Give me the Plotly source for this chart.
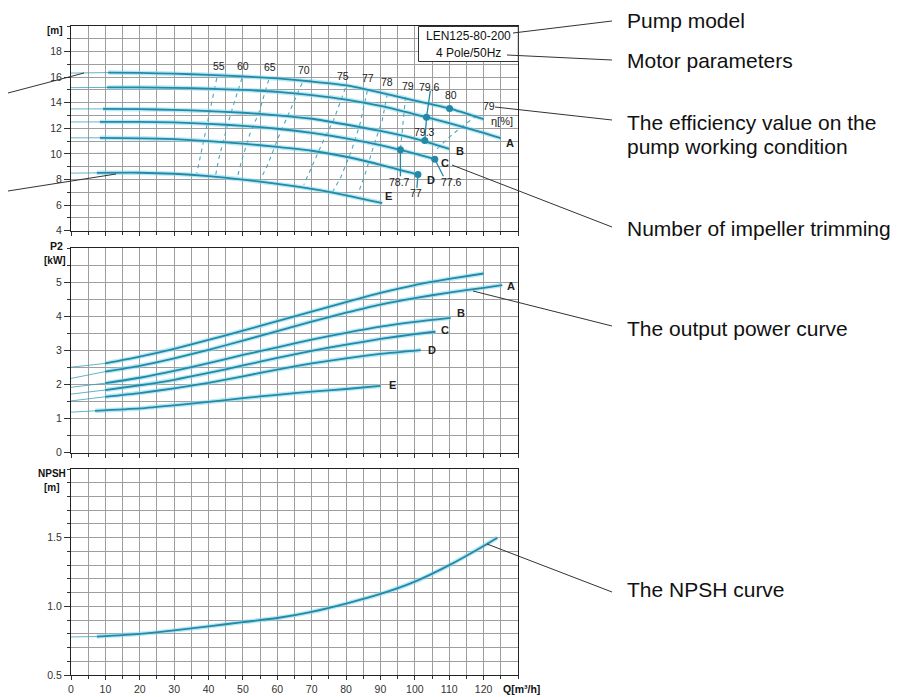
import plotly.graph_objects as go

# ---------------- DATA ----------------
# Head curves (top chart): flow Q [m3/h] and head H [m]
H_names = ["", "A", "B", "C", "D", "E"]
H_thin_q = [[0, 10.8], [0, 10.5], [0, 9.3], [0, 8.4], [0, 8.4], [0, 7.5]]
H_thin_v = [[16.32, 16.36], [15.18, 15.2], [13.52, 13.52], [12.5, 12.5], [11.26, 11.26], [8.5, 8.52]]
H_q = [
    [10.8, 20, 30, 40, 50, 60, 70, 80, 90, 100, 110, 120],
    [10.5, 20, 30, 40, 50, 60, 70, 80, 90, 100, 110, 120, 125],
    [9.3, 20, 30, 40, 50, 60, 70, 80, 90, 100, 110],
    [8.4, 20, 30, 40, 50, 60, 70, 80, 90, 100, 105.8],
    [8.4, 20, 30, 40, 50, 60, 70, 80, 90, 100.9],
    [7.5, 20, 30, 40, 50, 60, 70, 80, 90.5],
]
H_v = [
    [16.36, 16.33, 16.27, 16.18, 16.06, 15.9, 15.66, 15.36, 14.8, 14.17, 13.56, 12.72],
    [15.2, 15.2, 15.17, 15.1, 15.0, 14.85, 14.6, 14.25, 13.75, 13.1, 12.4, 11.65, 11.23],
    [13.52, 13.5, 13.44, 13.35, 13.22, 13.02, 12.75, 12.3, 11.8, 11.2, 10.4],
    [12.5, 12.5, 12.46, 12.35, 12.2, 11.97, 11.65, 11.22, 10.68, 10.02, 9.59],
    [11.26, 11.22, 11.15, 11.0, 10.8, 10.55, 10.25, 9.78, 9.15, 8.39],
    [8.52, 8.53, 8.45, 8.27, 8.0, 7.66, 7.27, 6.77, 6.16],
]

# Efficiency iso-lines (dashed) in the head chart
eta_values = ["55", "60", "65", "70", "75", "77", "78", "79", "80"]
eta_q = [
    [42.4, 40.5, 39.0, 36.6],
    [49.7, 46.8, 44.9, 42.9, 41.9],
    [57.5, 54.6, 52.1, 49.7, 48.3],
    [67.2, 62.8, 60.4, 57.0, 55.0],
    [79.8, 76.4, 73.5, 70.6, 67.7],
    [86.2, 84.0, 81.5, 78.5, 75.5],
    [92.0, 90.5, 88.0, 85.5, 83.5],
    [97.3, 96.8, 96.2, 95.8],
    [118.0, 114.0, 109.5, 106.5],
]
eta_h = [
    [15.92, 13.45, 11.63, 8.5],
    [15.92, 13.45, 11.63, 9.54, 8.1],
    [15.79, 13.19, 11.63, 9.54, 8.11],
    [15.53, 12.92, 11.36, 9.02, 7.98],
    [15.14, 12.67, 11.1, 9.28, 7.59],
    [14.95, 12.3, 10.2, 8.2, 6.75],
    [14.7, 12.6, 10.6, 8.4, 6.9],
    [14.45, 13.0, 11.6, 10.32],
    [13.0, 12.2, 11.2, 10.4],
]
# Efficiency label positions (Q, H)
eta_lab_text = ["55", "60", "65", "70", "75", "77", "78", "79", "79.6", "80", "79", "79.3", "78.7", "77", "77.6"]
eta_lab_q = [43.1, 50.1, 58.0, 67.9, 79.2, 86.5, 92.0, 97.9, 104.3, 110.4, 121.5, 102.8, 95.6, 100.2, 110.6]
eta_lab_h = [16.88, 16.88, 16.8, 16.57, 16.1, 15.96, 15.65, 15.33, 15.26, 14.64, 13.72, 11.7, 7.83, 6.96, 7.83]

# Working points (dots)
dot_q = [110.1, 103.4, 102.9, 95.8, 105.8, 100.9]
dot_h = [13.56, 12.87, 11.05, 10.32, 9.59, 8.39]

# Curve labels in head chart
H_lab_text = ["η[%]", "A", "B", "C", "D", "E"]
H_lab_q = [125.3, 127.6, 113.2, 108.8, 104.6, 92.4]
H_lab_h = [12.55, 10.88, 10.26, 9.32, 7.99, 6.73]

# Power curves P2 [kW]
P_thin_q = [[0, 9.9], [0, 9.9], [0, 9.9], [0, 9.9], [0, 9.9], [0, 7.0]]
P_thin_v = [[2.51, 2.62], [2.18, 2.38], [1.92, 2.04], [1.72, 1.84], [1.52, 1.64], [1.19, 1.23]]
P_q = [
    [9.9, 20, 30, 40, 50, 60, 70, 80, 90, 100, 110, 120],
    [9.9, 20, 30, 40, 50, 60, 70, 80, 90, 100, 110, 120, 125.4],
    [9.9, 20, 30, 40, 50, 60, 70, 80, 90, 100, 110.4],
    [9.9, 20, 30, 40, 50, 60, 70, 80, 90, 100, 106],
    [9.9, 20, 30, 40, 50, 60, 70, 80, 90, 101.7],
    [7.0, 20, 30, 40, 50, 60, 70, 80, 90],
]
P_v = [
    [2.62, 2.82, 3.05, 3.31, 3.58, 3.86, 4.14, 4.42, 4.69, 4.92, 5.1, 5.26],
    [2.38, 2.55, 2.77, 3.02, 3.29, 3.57, 3.85, 4.11, 4.35, 4.54, 4.7, 4.84, 4.92],
    [2.04, 2.2, 2.4, 2.63, 2.87, 3.09, 3.32, 3.52, 3.7, 3.84, 3.96],
    [1.84, 1.98, 2.14, 2.34, 2.56, 2.78, 2.99, 3.17, 3.34, 3.48, 3.55],
    [1.64, 1.75, 1.89, 2.05, 2.24, 2.44, 2.62, 2.77, 2.9, 3.01],
    [1.23, 1.3, 1.39, 1.49, 1.6, 1.7, 1.79, 1.87, 1.96],
]
P_lab_text = ["A", "B", "C", "D", "E"]
P_lab_q = [127.9, 113.3, 108.9, 105.1, 93.4]
P_lab_v = [4.89, 4.09, 3.6, 3.01, 1.99]

# NPSH curve [m]
N_thin_q = [0, 7.5]
N_thin_v = [0.777, 0.78]
N_q = [7.5, 20, 30, 40, 50, 60, 70, 80, 90, 100, 110, 120, 124]
N_v = [0.78, 0.80, 0.825, 0.854, 0.885, 0.915, 0.96, 1.02, 1.09, 1.18, 1.3, 1.44, 1.5]

x_ticks = [0, 10, 20, 30, 40, 50, 60, 70, 80, 90, 100, 110, 120]
H_ticks = [4, 6, 8, 10, 12, 14, 16, 18]
P_ticks = [0, 1, 2, 3, 4, 5]
N_ticks = [0.5, 1.0, 1.5]
N_ticktext = ["0.5", "1.0", "1.5"]

# ---------------- STYLE ----------------
OFF = 8  # default page body margin
W, H = 922 - OFF, 697 - OFF
ML, MR, MT, MB = 71 - OFF, 404, 26 - OFF, 22
PW, PH = W - ML - MR, H - MT - MB
X0, YB = 71, 675  # page pixel of plot left edge / plot bottom
CORE = "#2489a6"
GLOW = "rgba(125,215,235,0.55)"
THIN = "rgba(60,160,185,0.8)"
GRID = "#9e9e9e"
FONT = "Liberation Sans, Arial, sans-serif"


def px(x):
    return (x - X0) / PW


def py(y):
    return (YB - y) / PH


fig = go.Figure()


def add_curve(tq, tv, q, v, xa, ya):
    fig.add_trace(go.Scatter(x=tq, y=tv, mode="lines", xaxis=xa, yaxis=ya,
                             line=dict(color=THIN, width=1), hoverinfo="skip", showlegend=False))
    fig.add_trace(go.Scatter(x=q, y=v, mode="lines", xaxis=xa, yaxis=ya,
                             line=dict(color=GLOW, width=4.5, shape="spline", smoothing=0.6),
                             hoverinfo="skip", showlegend=False))
    fig.add_trace(go.Scatter(x=q, y=v, mode="lines", xaxis=xa, yaxis=ya,
                             line=dict(color=CORE, width=1.8, shape="spline", smoothing=0.6),
                             showlegend=False))


# efficiency dashed lines
for q, h in zip(eta_q, eta_h):
    fig.add_trace(go.Scatter(x=q, y=h, mode="lines", xaxis="x", yaxis="y",
                             line=dict(color="#46a9c0", width=1.1, dash="4px,4px"),
                             hoverinfo="skip", showlegend=False))

for i in range(len(H_q)):
    add_curve(H_thin_q[i], H_thin_v[i], H_q[i], H_v[i], "x", "y")
for i in range(len(P_q)):
    add_curve(P_thin_q[i], P_thin_v[i], P_q[i], P_v[i], "x2", "y2")
add_curve(N_thin_q, N_thin_v, N_q, N_v, "x3", "y3")

fig.add_trace(go.Scatter(x=dot_q, y=dot_h, mode="markers", xaxis="x", yaxis="y",
                         marker=dict(color=CORE, size=7), showlegend=False))

# ---------------- AXES ----------------
common_x = dict(range=[0, 130], dtick=10, tick0=0, showgrid=True, gridcolor=GRID, gridwidth=1,
                zeroline=False, showline=True, linecolor="#222", linewidth=1, mirror=True,
                ticks="outside", ticklen=4, tickcolor="#333",
                minor=dict(dtick=5, showgrid=True, gridcolor=GRID, ticks="outside", ticklen=3, tickcolor="#333"),
                tickfont=dict(family=FONT, size=10.5, color="#333"), fixedrange=True)
common_y = dict(showgrid=True, gridcolor=GRID, gridwidth=1, zeroline=False, showline=True,
                linecolor="#222", linewidth=1, mirror=True, ticks="outside", ticklen=6, tickcolor="#333",
                tickfont=dict(family=FONT, size=10.5, color="#333"), fixedrange=True)

fig.update_layout(
    width=W, height=H,
    margin=dict(l=ML, r=MR, t=MT, b=MB, autoexpand=False),
    paper_bgcolor="white", plot_bgcolor="white",
    showlegend=False,
    xaxis=dict(common_x, anchor="y", domain=[0, 1], showticklabels=False),
    xaxis2=dict(common_x, anchor="y2", domain=[0, 1], showticklabels=False, matches="x"),
    xaxis3=dict(common_x, anchor="y3", domain=[0, 1], tickmode="array", tickvals=x_ticks, matches="x"),
    yaxis=dict(common_y, anchor="x", domain=[py(230.7), 1], range=[4, 20], tickmode="array",
               tickvals=H_ticks,
               minor=dict(dtick=1, tick0=0, showgrid=True, gridcolor=GRID, ticks="outside", ticklen=3, tickcolor="#333")),
    yaxis2=dict(common_y, anchor="x2", domain=[py(452.7), py(248.3)], range=[0, 6], tickmode="array",
                tickvals=P_ticks,
                minor=dict(dtick=0.5, tick0=0, showgrid=True, gridcolor=GRID, ticks="outside", ticklen=3, tickcolor="#333")),
    yaxis3=dict(common_y, anchor="x3", domain=[0, py(469)], range=[0.5, 2.0], tickmode="array",
                tickvals=N_ticks, ticktext=N_ticktext,
                minor=dict(dtick=0.1, tick0=0.5, showgrid=True, gridcolor=GRID, ticks="outside", ticklen=3, tickcolor="#333")),
)

ann = []


def data_text(t, x, y, xa, ya, size=10.5, bold=False, anchor="center"):
    ann.append(dict(text=("<b>%s</b>" % t) if bold else t, x=x, y=y, xref=xa, yref=ya, showarrow=False,
                    font=dict(family=FONT, size=size, color="#222"), xanchor=anchor, yanchor="middle"))


for t, q, h in zip(eta_lab_text, eta_lab_q, eta_lab_h):
    data_text(t, q, h, "x", "y", size=10.5)
for t, q, h in zip(H_lab_text, H_lab_q, H_lab_h):
    data_text(t, q, h, "x", "y", size=11, bold=(t != "η[%]"))
for t, q, v in zip(P_lab_text, P_lab_q, P_lab_v):
    data_text(t, q, v, "x2", "y2", size=11, bold=True)


def paper_text(t, x, y, size, anchor="left", bold=False):
    ann.append(dict(text=("<b>%s</b>" % t) if bold else t, x=px(x), y=py(y), xref="paper", yref="paper",
                    showarrow=False, font=dict(family=FONT, size=size, color="#111"),
                    xanchor=anchor, yanchor="middle"))


# axis unit labels
paper_text("[m]", 55, 31, 10, "center", True)
paper_text("P2", 56, 246, 10.5, "center", True)
paper_text("[kW]", 55, 261, 10, "center", True)
paper_text("NPSH", 52, 473, 10, "center", True)
paper_text("[m]", 52, 487, 10, "center", True)
paper_text("Q[m³/h]", 521, 689, 10.5, "center", True)

# model box text
paper_text("LEN125-80-200", 468, 35.5, 12, "center")
paper_text("4 Pole/50Hz", 468, 53, 12, "center")

# explanation texts on the right
paper_text("Pump model", 625, 20, 21)
paper_text("Motor parameters", 625, 60, 21)
paper_text("The efficiency value on the", 625, 123, 21)
paper_text("pump working condition", 625, 147, 21)
paper_text("Number of impeller trimming", 625, 228, 21)
paper_text("The output power curve", 625, 328, 21)
paper_text("The NPSH curve", 625, 589, 21)

fig.update_layout(annotations=ann)

shapes = []


def pline(x0, y0, x1, y1, color="#333", width=1):
    shapes.append(dict(type="line", xref="paper", yref="paper", x0=px(x0), y0=py(y0), x1=px(x1), y1=py(y1),
                       line=dict(color=color, width=width)))


# model box
shapes.append(dict(type="rect", xref="paper", yref="paper", x0=px(418.5), y0=py(61.5), x1=px(518.3), y1=py(26.5),
                   line=dict(color="#333", width=1), fillcolor="white", layer="above"))
# leader lines
pline(513, 33, 612, 21)
pline(507, 55, 612, 60)
pline(495, 107, 612, 120)
pline(452, 165, 612, 227)
pline(473, 291, 612, 326)
pline(487, 544, 612, 592)
pline(OFF, 93, 84, 73)
pline(OFF, 191, 116, 174)


def dline(x0, y0, x1, y1):
    shapes.append(dict(type="line", xref="x", yref="y", x0=x0, y0=y0, x1=x1, y1=y1,
                       line=dict(color=CORE, width=1.3)))


# teal leaders from efficiency labels to working points
dline(104.5, 14.95, 103.4, 12.87)
dline(103.4, 12.87, 102.9, 11.05)
dline(95.8, 10.32, 95.8, 8.25)
dline(100.9, 8.39, 100.6, 7.35)
dline(105.8, 9.59, 108.3, 8.25)

fig.update_layout(shapes=shapes)

fig.write_html("out.html")
